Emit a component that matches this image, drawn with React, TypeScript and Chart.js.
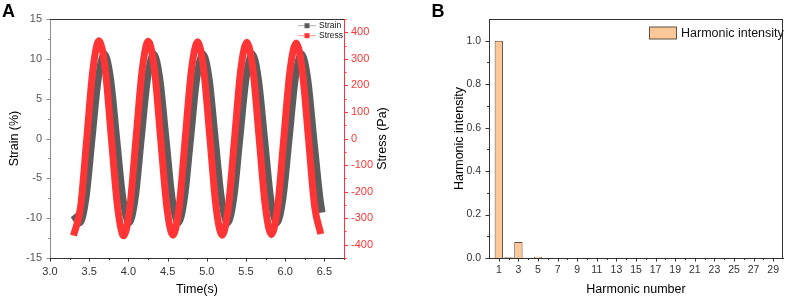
import React, { useEffect, useRef } from 'react';
import { Chart, registerables } from 'chart.js';

Chart.register(...registerables);

const FONT = "'Liberation Sans', Arial, Helvetica, sans-serif";
Chart.defaults.font.family = FONT;

// ---------- Panel A data ----------
const strainTime = [
  3.300, 3.379, 3.458, 3.536, 3.615, 3.693, 3.772, 3.850, 3.929, 4.007,
  4.086, 4.164, 4.243, 4.321, 4.400, 4.479, 4.557, 4.636, 4.714, 4.793,
  4.871, 4.950, 5.029, 5.107, 5.186, 5.264, 5.343, 5.421, 5.500, 5.578,
  5.657, 5.736, 5.814, 5.893, 5.971, 6.050, 6.128, 6.207, 6.286, 6.364,
  6.443, 6.470,
];
const strainValues = [
  -9.6, -10.6, -7.5, 0, 7.5, 10.6, 7.5, 0, -7.5, -10.6,
  -7.5, 0, 7.5, 10.6, 7.5, 0, -7.5, -10.6, -7.5, 0,
  7.5, 10.6, 7.5, 0, -7.5, -10.6, -7.5, 0, 7.5, 10.6,
  7.5, 0, -7.5, -10.6, -7.5, 0, 7.5, 10.6, 7.5, 0,
  -7.5, -9.3,
];
const stressTime = [
  3.300, 3.390, 3.469, 3.547, 3.626, 3.705, 3.783, 3.862, 3.940, 4.019,
  4.097, 4.176, 4.254, 4.333, 4.411, 4.490, 4.568, 4.647, 4.725, 4.804,
  4.883, 4.961, 5.040, 5.118, 5.197, 5.275, 5.354, 5.432, 5.511, 5.590,
  5.668, 5.747, 5.825, 5.904, 5.982, 6.061, 6.140, 6.218, 6.297, 6.375,
  6.454,
];
const stressValues = [
  -366, -258, 0, 258, 368, 260, 0, -258, -366, -258,
  0, 258, 366, 258, 0, -258, -364, -258, 0, 258,
  364, 258, 0, -258, -364, -258, 0, 256, 362, 256,
  0, -256, -362, -256, 0, 255, 360, 255, 0, -255,
  -360,
];
const timeTicks = [3.0, 3.5, 4.0, 4.5, 5.0, 5.5, 6.0, 6.5];
const timeMinorTicks = [3.25, 3.75, 4.25, 4.75, 5.25, 5.75, 6.25, 6.75];
const strainTicks = [-15, -10, -5, 0, 5, 10, 15];
const strainMinorTicks = [-12.5, -7.5, -2.5, 2.5, 7.5, 12.5];
const stressTicks = [-400, -300, -200, -100, 0, 100, 200, 300, 400];
const stressMinorTicks = [-450, -350, -250, -150, -50, 50, 150, 250, 350, 450];

// ---------- Panel B data ----------
const harmonicNumbers = [
  0, 1, 2, 3, 4, 5, 6, 7, 8, 9, 10, 11, 12, 13, 14, 15,
  16, 17, 18, 19, 20, 21, 22, 23, 24, 25, 26, 27, 28, 29, 30,
];
const harmonicIntensity = [
  0, 1.0, 0.003, 0.074, 0.001, 0.006, 0, 0, 0, 0, 0, 0, 0, 0, 0, 0,
  0, 0, 0, 0, 0, 0, 0, 0, 0, 0, 0, 0, 0, 0, 0,
];
const intensityTicks = [0, 0.2, 0.4, 0.6, 0.8, 1.0];
const intensityMinorTicks = [0.1, 0.3, 0.5, 0.7, 0.9];

const STRAIN_COLOR = '#5c5c5c';
const STRESS_COLOR = '#ff3535';
const BAR_FILL = '#fdc898';
const BAR_EDGE = '#5e4e40';

function hLine(ctx: CanvasRenderingContext2D, x1: number, x2: number, y: number, color: string) {
  const yy = Math.round(y) + 0.5;
  ctx.strokeStyle = color;
  ctx.lineWidth = 1;
  ctx.beginPath();
  ctx.moveTo(x1, yy);
  ctx.lineTo(x2, yy);
  ctx.stroke();
}
function vLine(ctx: CanvasRenderingContext2D, x: number, y1: number, y2: number, color: string) {
  const xx = Math.round(x) + 0.5;
  ctx.strokeStyle = color;
  ctx.lineWidth = 1;
  ctx.beginPath();
  ctx.moveTo(xx, y1);
  ctx.lineTo(xx, y2);
  ctx.stroke();
}

function ChartCanvas({ make, width, height, left }: { make: () => any; width: number; height: number; left: number }) {
  const ref = useRef<HTMLCanvasElement>(null);
  useEffect(() => {
    const chart = new Chart(ref.current as HTMLCanvasElement, make());
    return () => chart.destroy();
  }, []);
  return (
    <canvas
      ref={ref}
      width={width}
      height={height}
      style={{ position: 'absolute', left, top: 0, width, height }}
    />
  );
}

function makeA() {
  const decor = {
    id: 'decorA',
    afterDraw(chart: any) {
      const { ctx, chartArea: ca, scales } = chart;
      const x = scales.x, yl = scales.y, yr = scales.y1;
      ctx.save();
      hLine(ctx, ca.left, ca.right, ca.top, '#333');
      timeTicks.forEach((v) => vLine(ctx, x.getPixelForValue(v), ca.bottom, ca.bottom + 3.5, '#333'));
      timeMinorTicks.forEach((v) => vLine(ctx, x.getPixelForValue(v), ca.bottom, ca.bottom + 2, '#333'));
      strainTicks.forEach((v) => hLine(ctx, ca.left - 3.5, ca.left, yl.getPixelForValue(v), '#8c8c8c'));
      strainMinorTicks.forEach((v) => hLine(ctx, ca.left - 2, ca.left, yl.getPixelForValue(v), '#8c8c8c'));
      stressTicks.forEach((v) => hLine(ctx, ca.right, ca.right + 4, yr.getPixelForValue(v), STRESS_COLOR));
      stressMinorTicks.forEach((v) => hLine(ctx, ca.right, ca.right + 2.5, yr.getPixelForValue(v), STRESS_COLOR));

      // right axis title (reads bottom-to-top)
      ctx.save();
      ctx.translate(383, (ca.top + ca.bottom) / 2);
      ctx.rotate(-Math.PI / 2);
      ctx.fillStyle = '#000';
      ctx.font = `12.5px ${FONT}`;
      ctx.textAlign = 'center';
      ctx.textBaseline = 'middle';
      ctx.fillText('Stress (Pa)', 0, 0);
      ctx.restore();

      // legend
      const items = [
        { label: 'Strain', color: STRAIN_COLOR, y: 25.7 },
        { label: 'Stress', color: STRESS_COLOR, y: 35.7 },
      ];
      ctx.font = `8.5px ${FONT}`;
      ctx.textAlign = 'left';
      ctx.textBaseline = 'middle';
      items.forEach((it) => {
        ctx.strokeStyle = it.color === STRAIN_COLOR ? '#9a9a9a' : '#ff8080';
        ctx.lineWidth = 0.8;
        ctx.beginPath();
        ctx.moveTo(298, it.y);
        ctx.lineTo(316, it.y);
        ctx.stroke();
        ctx.fillStyle = it.color;
        ctx.fillRect(304.5, it.y - 2.5, 5, 5);
        ctx.fillStyle = '#111';
        ctx.fillText(it.label, 319, it.y);
      });

      // panel letter
      ctx.fillStyle = '#000';
      ctx.font = `bold 18px ${FONT}`;
      ctx.textAlign = 'left';
      ctx.textBaseline = 'alphabetic';
      ctx.fillText('A', 2, 17);
      ctx.restore();
    },
  };

  return {
    type: 'line',
    data: {
      datasets: [
        {
          label: 'Strain',
          data: strainTime.map((t, i) => ({ x: t, y: strainValues[i] })),
          borderColor: STRAIN_COLOR,
          backgroundColor: STRAIN_COLOR,
          borderWidth: 7,
          pointRadius: 0,
          cubicInterpolationMode: 'monotone',
          borderJoinStyle: 'round',
          yAxisID: 'y',
          order: 1,
        },
        {
          label: 'Stress',
          data: stressTime.map((t, i) => ({ x: t, y: stressValues[i] })),
          borderColor: STRESS_COLOR,
          backgroundColor: STRESS_COLOR,
          borderWidth: 7,
          pointRadius: 0,
          cubicInterpolationMode: 'monotone',
          borderJoinStyle: 'round',
          yAxisID: 'y1',
          order: 0,
        },
      ],
    },
    options: {
      responsive: false,
      animation: false,
      devicePixelRatio: 1,
      layout: { padding: { top: 19, left: 0, right: 0, bottom: 0 } },
      plugins: { legend: { display: false }, tooltip: { enabled: false } },
      scales: {
        x: {
          type: 'linear',
          position: 'bottom',
          min: 3.0,
          max: 6.75,
          afterBuildTicks: (s: any) => { s.ticks = timeTicks.map((v) => ({ value: v })); },
          afterFit: (s: any) => { s.height = 39; },
          grid: { display: false, drawTicks: false },
          border: { display: true, color: '#333', width: 1 },
          ticks: { color: '#333', font: { size: 11 }, padding: 7, maxRotation: 0, callback: (v: number) => v.toFixed(1) },
          title: { display: true, text: 'Time(s)', color: '#000', font: { size: 12.5 }, padding: { top: 0, bottom: 0 } },
        },
        y: {
          type: 'linear',
          position: 'left',
          min: -15,
          max: 15,
          afterBuildTicks: (s: any) => { s.ticks = strainTicks.map((v) => ({ value: v })); },
          afterFit: (s: any) => { s.width = 50; },
          grid: { display: false, drawTicks: false },
          border: { display: true, color: '#8c8c8c', width: 1 },
          ticks: { color: '#555', font: { size: 11 }, padding: 8, callback: (v: number) => String(v) },
          title: { display: true, text: 'Strain (%)', color: '#000', font: { size: 12.5 }, padding: { top: 7.5, bottom: 0 } },
        },
        y1: {
          type: 'linear',
          position: 'right',
          min: -450,
          max: 450,
          afterBuildTicks: (s: any) => { s.ticks = stressTicks.map((v) => ({ value: v })); },
          afterFit: (s: any) => { s.width = 56; },
          grid: { display: false, drawTicks: false },
          border: { display: true, color: STRESS_COLOR, width: 1 },
          ticks: { color: STRESS_COLOR, font: { size: 11 }, padding: 7, callback: (v: number) => String(v) },
          title: { display: false },
        },
      },
    },
    plugins: [decor],
  };
}

function makeB() {
  const decor = {
    id: 'decorB',
    afterDraw(chart: any) {
      const { ctx, chartArea: ca, scales } = chart;
      const x = scales.x, y = scales.y;
      ctx.save();
      hLine(ctx, ca.left, ca.right, ca.top, '#333');
      vLine(ctx, ca.right - 1, ca.top, ca.bottom, '#333');
      harmonicNumbers.forEach((n, i) => {
        if (i === 0 || i === harmonicNumbers.length - 1) return;
        const len = n % 2 === 1 ? 3.5 : 2;
        vLine(ctx, x.getPixelForValue(i), ca.bottom, ca.bottom + len, '#333');
      });
      intensityTicks.forEach((v) => hLine(ctx, ca.left - 3.5, ca.left, y.getPixelForValue(v), '#333'));
      intensityMinorTicks.forEach((v) => hLine(ctx, ca.left - 2, ca.left, y.getPixelForValue(v), '#333'));

      // legend
      const bx = 249.5, by = 27, bw = 27, bh = 12;
      ctx.fillStyle = BAR_FILL;
      ctx.fillRect(bx, by, bw, bh);
      ctx.strokeStyle = BAR_EDGE;
      ctx.lineWidth = 1;
      ctx.strokeRect(bx, by, bw, bh);
      ctx.fillStyle = '#111';
      ctx.font = `12.5px ${FONT}`;
      ctx.textAlign = 'left';
      ctx.textBaseline = 'middle';
      ctx.fillText('Harmonic intensity', 281, 33.3);

      ctx.fillStyle = '#000';
      ctx.font = `bold 18px ${FONT}`;
      ctx.textBaseline = 'alphabetic';
      ctx.fillText('B', 31.5, 17);
      ctx.restore();
    },
  };

  return {
    type: 'bar',
    data: {
      labels: harmonicNumbers.map(String),
      datasets: [
        {
          label: 'Harmonic intensity',
          data: harmonicIntensity,
          backgroundColor: BAR_FILL,
          borderColor: BAR_EDGE,
          borderWidth: 1,
          categoryPercentage: 1,
          barPercentage: 0.85,
        },
      ],
    },
    options: {
      responsive: false,
      animation: false,
      devicePixelRatio: 1,
      layout: { padding: { top: 19, left: 0, right: 1, bottom: 0 } },
      plugins: { legend: { display: false }, tooltip: { enabled: false } },
      scales: {
        x: {
          type: 'category',
          offset: false,
          afterFit: (s: any) => { s.height = 39; },
          grid: { display: false, drawTicks: false, offset: false },
          border: { display: true, color: '#333', width: 1 },
          ticks: {
            color: '#333',
            font: { size: 10.5 },
            padding: 6,
            autoSkip: false,
            maxRotation: 0,
            callback: (_v: any, i: number) => (harmonicNumbers[i] % 2 === 1 ? String(harmonicNumbers[i]) : ''),
          },
          title: { display: true, text: 'Harmonic number', color: '#000', font: { size: 12.5 }, padding: { top: 0, bottom: 0 } },
        },
        y: {
          type: 'linear',
          min: 0,
          max: 1.1,
          afterBuildTicks: (s: any) => { s.ticks = intensityTicks.map((v) => ({ value: v })); },
          afterFit: (s: any) => { s.width = 89; },
          grid: { display: false, drawTicks: false },
          border: { display: true, color: '#333', width: 1 },
          ticks: { color: '#333', font: { size: 10.5 }, padding: 8, callback: (v: number) => v.toFixed(1) },
          title: { display: true, text: 'Harmonic intensity', color: '#000', font: { size: 12.5 }, padding: { top: 51.8, bottom: 0 } },
        },
      },
    },
    plugins: [decor],
  };
}

export default function App() {
  return (
    <div style={{ position: 'fixed', left: 0, top: 0, width: 789, height: 297, background: '#fff', overflow: 'hidden' }}>
      <ChartCanvas make={makeA} width={400} height={297} left={0} />
      <ChartCanvas make={makeB} width={389} height={297} left={400} />
    </div>
  );
}
